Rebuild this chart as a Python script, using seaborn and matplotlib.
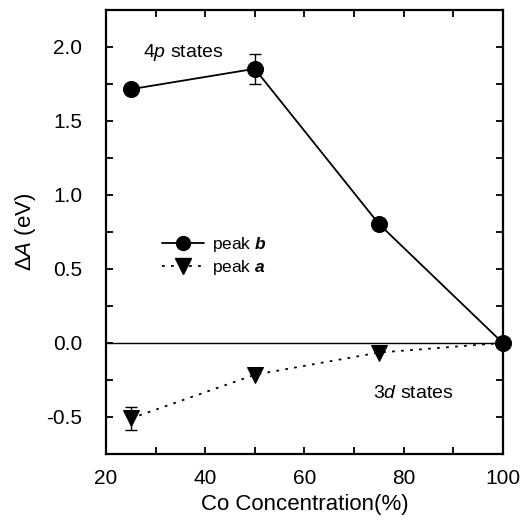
import numpy as np
import pandas as pd
import matplotlib
matplotlib.use("Agg")
import matplotlib.pyplot as plt
from matplotlib.ticker import MultipleLocator, FormatStrFormatter
from matplotlib.lines import Line2D
import seaborn as sns

# data
conc = [25, 50, 75, 100]
peak_b = [1.714, 1.852, 0.805, 0.0]
peak_b_err = [0.0, 0.10, 0.0, 0.0]
peak_a = [-0.51, -0.215, -0.065, 0.0]
peak_a_err = [0.075, 0.0, 0.0, 0.0]

sns.set_theme(style="ticks")
plt.rcParams['font.family'] = ['Liberation Sans', 'DejaVu Sans']
plt.rcParams['mathtext.fontset'] = 'custom'
plt.rcParams['mathtext.it'] = 'Liberation Sans:italic'
plt.rcParams['mathtext.bf'] = 'Liberation Sans:bold:italic'
plt.rcParams['mathtext.rm'] = 'Liberation Sans'
for k in ['text.color', 'axes.labelcolor', 'xtick.color', 'ytick.color',
          'axes.edgecolor']:
    plt.rcParams[k] = 'black'

df = pd.DataFrame({"conc": conc, "b": peak_b, "a": peak_a})

fig = plt.figure(figsize=(5.27, 5.2), dpi=100)
ax = fig.add_axes([0.201, 0.127, 0.753, 0.854])

ax.axhline(0, color="black", lw=1.0, zorder=1)

# peak a (dotted, triangles) - last point sits under the peak b circle
sns.lineplot(data=df, x="conc", y="a", ax=ax, color="black", lw=1.3,
             linestyle=(0, (1.5, 3.5)), marker="v", markersize=12,
             markeredgecolor="black", markevery=[0, 1, 2],
             clip_on=False, zorder=3)
# peak b (solid, circles)
sns.lineplot(data=df, x="conc", y="b", ax=ax, color="black", lw=1.3,
             marker="o", markersize=11.5, markeredgecolor="black",
             clip_on=False, zorder=4)

for x, y, e in zip(conc, peak_b, peak_b_err):
    if e > 0:
        ax.errorbar(x, y, yerr=e, fmt="none", ecolor="black", elinewidth=1.0,
                    capsize=4.5, capthick=1.0, zorder=2)
for x, y, e in zip(conc, peak_a, peak_a_err):
    if e > 0:
        ax.errorbar(x, y, yerr=e, fmt="none", ecolor="black", elinewidth=1.0,
                    capsize=4.5, capthick=1.0, zorder=2)

ax.set_xlim(20, 100)
ax.set_ylim(-0.75, 2.25)
ax.xaxis.set_major_locator(MultipleLocator(20))
ax.xaxis.set_minor_locator(MultipleLocator(10))
ax.yaxis.set_major_locator(MultipleLocator(0.5))
ax.yaxis.set_minor_locator(MultipleLocator(0.25))
ax.yaxis.set_major_formatter(FormatStrFormatter("%.1f"))

ax.tick_params(which="both", direction="in", top=True, right=True,
               length=5, width=1.3, color="black")
ax.tick_params(axis="x", which="major", labelsize=15, pad=11)
ax.tick_params(axis="y", which="major", labelsize=15, pad=17)
for s in ax.spines.values():
    s.set_linewidth(1.6)
    s.set_color("black")

ax.set_xlabel("Co Concentration(%)", fontsize=16, labelpad=4)
ax.set_ylabel("Δ$\\mathit{A}$ (eV)", fontsize=16, labelpad=6)

ax.text(27.5, 1.96, "$\\mathit{4p}$ states", fontsize=14, va="center", ha="left")
ax.text(73.8, -0.34, "3$\\mathit{d}$ states", fontsize=14, va="center", ha="left")

handles = [
    Line2D([], [], color="black", lw=1.3, marker="o", markersize=10),
    Line2D([], [], color="black", lw=1.3, linestyle=(0, (1.5, 3.5)),
           marker="v", markersize=11),
]
ax.legend(handles, ["peak $\\mathbf{b}$", "peak $\\mathbf{a}$"],
          loc="center left", bbox_to_anchor=(0.141, 0.446), frameon=False,
          fontsize=12.5, handlelength=2.4, handletextpad=0.5, borderpad=0,
          borderaxespad=0, labelspacing=0.2)

fig.savefig("out.png", dpi=100)
